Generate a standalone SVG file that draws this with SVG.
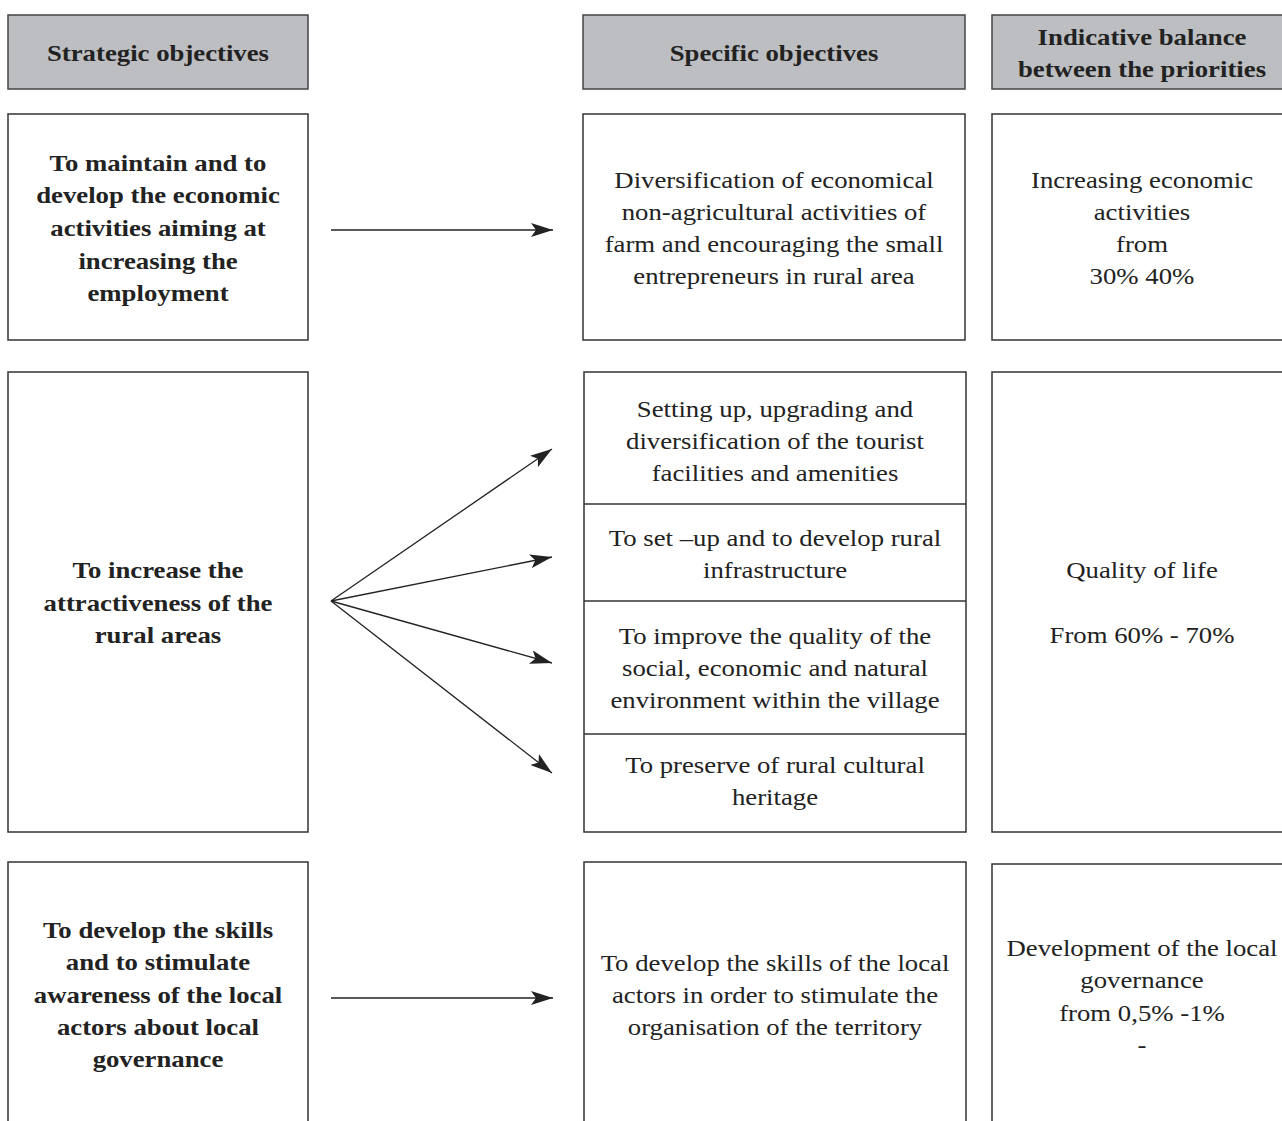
<svg xmlns="http://www.w3.org/2000/svg" width="1282" height="1121" viewBox="0 0 1282 1121">
<style>
.box{fill:#fff;stroke:#333;stroke-width:1.5}
.hdr{fill:#bdbec1;stroke:#444;stroke-width:1.5}
.div{stroke:#333;stroke-width:1.5}
text{font-family:"Liberation Serif","Times New Roman",serif;font-size:24px;fill:#222;text-anchor:middle}
.b{font-weight:bold}
.conn{stroke:#222;stroke-width:1.3;fill:none;marker-end:url(#ah)}
</style>
<defs>
<marker id="ah" markerUnits="userSpaceOnUse" markerWidth="24" markerHeight="14" refX="22" refY="7" orient="auto">
<path d="M0,0 L22,7 L0,14 L5,7 Z" fill="#222"/>
</marker>
</defs>
<rect width="1282" height="1121" fill="#fff"/>

<g id="hdr-strategic">
<rect class="hdr" x="8" y="15" width="300" height="74"/>
<g transform="translate(158 0) scale(1.115 1)">
<text class="b" x="0" y="61">Strategic objectives</text>
</g>
</g>
<g id="hdr-specific">
<rect class="hdr" x="583" y="15" width="382" height="74"/>
<g transform="translate(774 0) scale(1.115 1)">
<text class="b" x="0" y="61">Specific objectives</text>
</g>
</g>
<g id="hdr-balance">
<rect class="hdr" x="992" y="15" width="310" height="74"/>
<g transform="translate(1142 0) scale(1.115 1)">
<text class="b" x="0" y="45">Indicative balance</text>
<text class="b" x="0" y="77">between the priorities</text>
</g>
</g>

<g id="s1">
<rect class="box" x="8" y="114" width="300" height="226"/>
<g transform="translate(158 0) scale(1.115 1)">
<text class="b" x="0" y="171">To maintain and to</text>
<text class="b" x="0" y="203">develop the economic</text>
<text class="b" x="0" y="236">activities aiming at</text>
<text class="b" x="0" y="269">increasing the</text>
<text class="b" x="0" y="301">employment</text>
</g>
</g>
<g id="o1">
<rect class="box" x="583" y="114" width="382" height="226"/>
<g transform="translate(774 0) scale(1.115 1)">
<text x="0" y="188">Diversification of economical</text>
<text x="0" y="220">non-agricultural activities of</text>
<text x="0" y="252">farm and encouraging the small</text>
<text x="0" y="284">entrepreneurs in rural area</text>
</g>
</g>
<g id="b1">
<rect class="box" x="992" y="114" width="310" height="226"/>
<g transform="translate(1142 0) scale(1.115 1)">
<text x="0" y="188">Increasing economic</text>
<text x="0" y="220">activities</text>
<text x="0" y="252">from</text>
<text x="0" y="284">30% 40%</text>
</g>
</g>

<g id="s2">
<rect class="box" x="8" y="372" width="300" height="460"/>
<g transform="translate(158 0) scale(1.115 1)">
<text class="b" x="0" y="578">To increase the</text>
<text class="b" x="0" y="611">attractiveness of the</text>
<text class="b" x="0" y="643">rural areas</text>
</g>
</g>
<g id="o2">
<rect class="box" x="584" y="372" width="382" height="460"/>
<line class="div" x1="584" y1="504" x2="966" y2="504"/>
<line class="div" x1="584" y1="601" x2="966" y2="601"/>
<line class="div" x1="584" y1="734" x2="966" y2="734"/>
</g>
<g id="o2a" transform="translate(775 0) scale(1.115 1)">
<text x="0" y="417">Setting up, upgrading and</text>
<text x="0" y="449">diversification of the tourist</text>
<text x="0" y="481">facilities and amenities</text>
</g>
<g id="o2b" transform="translate(775 0) scale(1.115 1)">
<text x="0" y="546">To set –up and to develop rural</text>
<text x="0" y="578">infrastructure</text>
</g>
<g id="o2c" transform="translate(775 0) scale(1.115 1)">
<text x="0" y="644">To improve the quality of the</text>
<text x="0" y="676">social, economic and natural</text>
<text x="0" y="708">environment within the village</text>
</g>
<g id="o2d" transform="translate(775 0) scale(1.115 1)">
<text x="0" y="773">To preserve of rural cultural</text>
<text x="0" y="805">heritage</text>
</g>
<g id="b2">
<rect class="box" x="992" y="372" width="310" height="460"/>
<g transform="translate(1142 0) scale(1.115 1)">
<text x="0" y="578">Quality of life</text>
<text x="0" y="643">From 60% - 70%</text>
</g>
</g>

<g id="s3">
<rect class="box" x="8" y="862" width="300" height="300"/>
<g transform="translate(158 0) scale(1.115 1)">
<text class="b" x="0" y="938">To develop the skills</text>
<text class="b" x="0" y="970">and to stimulate</text>
<text class="b" x="0" y="1003">awareness of the local</text>
<text class="b" x="0" y="1035">actors about local</text>
<text class="b" x="0" y="1067">governance</text>
</g>
</g>
<g id="o3">
<rect class="box" x="584" y="862" width="382" height="300"/>
<g transform="translate(775 0) scale(1.115 1)">
<text x="0" y="971">To develop the skills of the local</text>
<text x="0" y="1003">actors in order to stimulate the</text>
<text x="0" y="1035">organisation of the territory</text>
</g>
</g>
<g id="b3">
<rect class="box" x="992" y="864" width="310" height="300"/>
<g transform="translate(1142 0) scale(1.115 1)">
<text x="0" y="956">Development of the local</text>
<text x="0" y="988">governance</text>
<text x="0" y="1021">from 0,5% -1%</text>
<text x="0" y="1053">-</text>
</g>
</g>

<g id="connectors">
<line class="conn" x1="331" y1="230" x2="553" y2="230"/>
<line class="conn" x1="331" y1="601" x2="552" y2="449"/>
<line class="conn" x1="331" y1="601" x2="552" y2="557"/>
<line class="conn" x1="331" y1="601" x2="552" y2="663"/>
<line class="conn" x1="331" y1="601" x2="552" y2="773"/>
<line class="conn" x1="331" y1="998" x2="553" y2="998"/>
</g>
</svg>
